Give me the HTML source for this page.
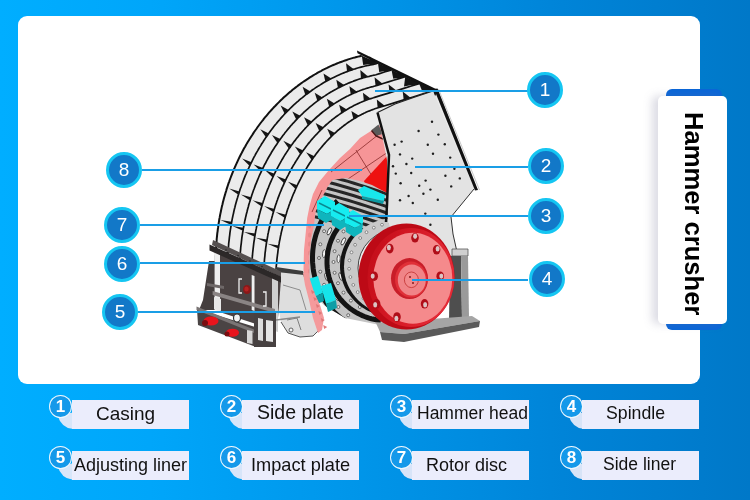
<!DOCTYPE html>
<html><head><meta charset="utf-8">
<style>
*{margin:0;padding:0;box-sizing:border-box}
html,body{width:750px;height:500px;overflow:hidden}
body{position:relative;font-family:"Liberation Sans",sans-serif;background:linear-gradient(90deg,#00aeff 0%,#00a6fa 20%,#0094e8 50%,#0084d8 75%,#0078c8 100%)}
.panel{position:absolute;left:18px;top:16px;width:682px;height:368px;background:#fff;border-radius:9px}
svg.m{position:absolute;left:0;top:0}
.num{will-change:transform;position:absolute;width:36px;height:36px;border-radius:50%;background:#1278c8;border:3px solid #15c6f2;color:#fff;font-size:19px;line-height:30px;text-align:center}
.ln{position:absolute;height:2px;background:#1a9ee6}
.card-strip{position:absolute;left:666px;top:89px;width:56px;height:241px;background:#0a66d8;border-radius:6px}
.card{position:absolute;left:658px;top:96px;width:69px;height:228px;background:#fff;border-radius:5px;box-shadow:-6px 0 8px rgba(120,120,150,.25)}
.vt{will-change:transform;position:absolute;left:681px;top:112px;writing-mode:vertical-rl;font-weight:bold;font-size:25.6px;color:#000;line-height:26px;white-space:nowrap}
.lb{position:absolute;height:29px;background:#ebedfc}
.lc{will-change:transform;position:absolute;width:23px;height:23px;border-radius:50%;background:#1499ea;border:1px solid rgba(255,255,255,.92);color:#fff;font-weight:bold;font-size:17px;line-height:21px;text-align:center}
.lt{position:absolute;color:#111;white-space:nowrap;line-height:1;will-change:transform}
</style></head><body>
<div class="panel"></div>
<svg class="m" width="750" height="500" viewBox="0 0 750 500">
<polygon points="217.5,288.0 217.3,286.0 217.1,284.1 216.9,282.2 216.7,280.2 216.5,278.3 216.4,276.4 216.3,274.4 216.2,272.5 216.1,270.5 216.0,268.6 215.9,266.6 215.9,264.7 215.8,262.7 215.8,260.8 215.8,258.9 215.8,256.5 215.9,254.6 215.9,252.6 216.0,250.7 216.1,248.7 216.2,246.8 216.3,244.8 216.4,242.9 216.6,240.9 216.7,239.0 216.9,237.1 217.1,235.1 217.3,233.2 217.6,231.3 217.8,229.3 218.1,227.4 218.4,225.1 218.7,223.2 219.0,221.3 219.3,219.3 219.7,217.4 220.0,215.5 220.4,213.6 220.8,211.7 221.2,209.8 221.6,207.9 222.0,206.0 222.5,204.2 222.9,202.3 223.4,200.4 223.9,198.5 224.4,196.7 225.1,194.4 225.6,192.6 226.2,190.8 226.7,188.9 227.3,187.1 227.9,185.3 228.5,183.4 229.2,181.6 229.8,179.8 230.5,178.0 231.2,176.2 231.9,174.4 232.6,172.7 233.3,170.9 234.0,169.1 234.8,167.4 235.7,165.3 236.5,163.6 237.3,161.8 238.1,160.1 238.9,158.4 239.7,156.7 240.6,155.0 241.5,153.3 242.3,151.7 243.2,150.0 244.1,148.3 245.1,146.7 246.0,145.1 246.9,143.4 247.9,141.8 248.9,140.2 250.1,138.3 251.1,136.7 252.1,135.2 253.1,133.6 254.1,132.0 255.2,130.5 256.3,129.0 257.3,127.5 258.4,126.0 259.5,124.5 260.6,123.0 261.8,121.5 262.9,120.1 264.0,118.6 265.2,117.2 266.4,115.8 267.8,114.1 269.0,112.7 270.2,111.3 271.4,110.0 272.7,108.6 273.9,107.3 275.2,106.0 276.4,104.7 277.7,103.4 279.0,102.1 280.3,100.8 281.6,99.6 282.9,98.3 284.2,97.1 285.5,95.9 286.9,94.7 288.5,93.3 289.9,92.1 291.3,91.0 292.6,89.8 294.0,88.7 295.4,87.6 296.9,86.5 298.3,85.4 299.7,84.4 301.1,83.3 302.6,82.3 304.0,81.3 305.5,80.3 307.0,79.3 308.5,78.4 309.9,77.4 311.7,76.3 313.2,75.4 314.7,74.5 316.3,73.6 317.8,72.7 319.3,71.9 320.9,71.1 322.4,70.2 324.0,69.4 325.5,68.7 327.1,67.9 328.6,67.1 330.2,66.4 331.8,65.7 333.4,65.0 335.0,64.3 336.9,63.5 338.5,62.9 340.1,62.3 341.7,61.7 343.3,61.1 345.0,60.5 346.6,60.0 348.2,59.4 349.9,58.9 351.5,58.4 353.1,57.9 354.8,57.5 356.5,57.0 358.1,56.6 359.8,56.2 361.8,55.7 436.0,89.0 474.0,189.0 451.0,217.0 453.0,234.0 457.0,252.0 458.0,300.0 300.0,300.0 210.0,290.0" fill="#ebebeb" />
<polyline points="217.5,288.0 217.3,286.0 217.1,284.1 216.9,282.2 216.7,280.2 216.5,278.3 216.4,276.4 216.3,274.4 216.2,272.5 216.1,270.5 216.0,268.6 215.9,266.6 215.9,264.7 215.8,262.7 215.8,260.8 215.8,258.9 215.8,256.5 215.9,254.6 215.9,252.6 216.0,250.7 216.1,248.7 216.2,246.8 216.3,244.8 216.4,242.9 216.6,240.9 216.7,239.0 216.9,237.1 217.1,235.1 217.3,233.2 217.6,231.3 217.8,229.3 218.1,227.4 218.4,225.1 218.7,223.2 219.0,221.3 219.3,219.3 219.7,217.4 220.0,215.5 220.4,213.6 220.8,211.7 221.2,209.8 221.6,207.9 222.0,206.0 222.5,204.2 222.9,202.3 223.4,200.4 223.9,198.5 224.4,196.7 225.1,194.4 225.6,192.6 226.2,190.8 226.7,188.9 227.3,187.1 227.9,185.3 228.5,183.4 229.2,181.6 229.8,179.8 230.5,178.0 231.2,176.2 231.9,174.4 232.6,172.7 233.3,170.9 234.0,169.1 234.8,167.4 235.7,165.3 236.5,163.6 237.3,161.8 238.1,160.1 238.9,158.4 239.7,156.7 240.6,155.0 241.5,153.3 242.3,151.7 243.2,150.0 244.1,148.3 245.1,146.7 246.0,145.1 246.9,143.4 247.9,141.8 248.9,140.2 250.1,138.3 251.1,136.7 252.1,135.2 253.1,133.6 254.1,132.0 255.2,130.5 256.3,129.0 257.3,127.5 258.4,126.0 259.5,124.5 260.6,123.0 261.8,121.5 262.9,120.1 264.0,118.6 265.2,117.2 266.4,115.8 267.8,114.1 269.0,112.7 270.2,111.3 271.4,110.0 272.7,108.6 273.9,107.3 275.2,106.0 276.4,104.7 277.7,103.4 279.0,102.1 280.3,100.8 281.6,99.6 282.9,98.3 284.2,97.1 285.5,95.9 286.9,94.7 288.5,93.3 289.9,92.1 291.3,91.0 292.6,89.8 294.0,88.7 295.4,87.6 296.9,86.5 298.3,85.4 299.7,84.4 301.1,83.3 302.6,82.3 304.0,81.3 305.5,80.3 307.0,79.3 308.5,78.4 309.9,77.4 311.7,76.3 313.2,75.4 314.7,74.5 316.3,73.6 317.8,72.7 319.3,71.9 320.9,71.1 322.4,70.2 324.0,69.4 325.5,68.7 327.1,67.9 328.6,67.1 330.2,66.4 331.8,65.7 333.4,65.0 335.0,64.3 336.9,63.5 338.5,62.9 340.1,62.3 341.7,61.7 343.3,61.1 345.0,60.5 346.6,60.0 348.2,59.4 349.9,58.9 351.5,58.4 353.1,57.9 354.8,57.5 356.5,57.0 358.1,56.6 359.8,56.2 361.8,55.7" fill="none" stroke="#111" stroke-width="2.0" />
<polyline points="228.8,287.7 228.7,285.8 228.5,283.9 228.3,281.6 228.2,279.8 228.1,277.9 228.0,275.6 227.9,273.7 227.9,271.8 227.8,269.5 227.8,267.6 227.8,265.7 227.8,263.5 227.8,261.6 227.8,259.3 227.9,257.4 228.0,255.5 228.1,253.2 228.2,251.3 228.3,249.5 228.4,247.2 228.6,245.3 228.7,243.4 229.0,241.1 229.2,239.3 229.4,237.4 229.7,235.1 229.9,233.2 230.2,231.0 230.5,229.1 230.8,227.3 231.2,225.0 231.5,223.2 231.8,221.3 232.2,219.1 232.6,217.2 233.0,215.4 233.5,213.2 233.9,211.3 234.3,209.5 234.9,207.3 235.3,205.5 235.9,203.3 236.4,201.5 236.9,199.7 237.6,197.6 238.1,195.8 238.7,194.0 239.3,191.9 239.9,190.1 240.5,188.3 241.3,186.2 241.9,184.5 242.7,182.4 243.3,180.7 244.0,178.9 244.8,176.9 245.5,175.2 246.3,173.5 247.1,171.4 247.9,169.7 248.7,168.1 249.6,166.1 250.4,164.4 251.2,162.8 252.2,160.8 253.0,159.2 254.0,157.2 254.9,155.6 255.7,154.0 256.8,152.1 257.7,150.6 258.6,149.0 259.7,147.1 260.7,145.6 261.6,144.0 262.8,142.2 263.7,140.7 264.7,139.2 265.9,137.4 267.0,136.0 268.2,134.2 269.2,132.8 270.3,131.3 271.6,129.6 272.6,128.2 273.7,126.8 275.0,125.1 276.2,123.8 277.3,122.4 278.6,120.8 279.8,119.5 280.9,118.1 282.3,116.6 283.5,115.3 284.9,113.7 286.2,112.5 287.4,111.2 288.8,109.8 290.1,108.5 291.3,107.3 292.8,105.9 294.1,104.7 295.3,103.6 296.9,102.2 298.2,101.1 299.7,99.7 301.0,98.6 302.4,97.6 303.9,96.3 305.3,95.2 306.6,94.2 308.3,93.0 309.6,92.0 311.0,91.0 312.6,89.8 314.0,88.9 315.4,87.9 317.1,86.8 318.5,85.9 320.2,84.9 321.6,84.0 323.1,83.1 324.8,82.1 326.2,81.3 327.7,80.5 329.5,79.6 330.9,78.8 332.4,78.1 334.2,77.2 335.6,76.5 337.1,75.8 338.9,75.0 340.4,74.3 342.2,73.5 343.8,72.9 345.3,72.3 347.1,71.6 348.6,71.0 350.2,70.5 352.0,69.9 353.5,69.3 355.1,68.9 356.9,68.3 358.5,67.8 360.0,67.4 361.9,66.9 363.5,66.5 365.4,66.0 366.9,65.7 368.5,65.3 370.4,64.9 372.0,64.6 373.5,64.3 375.0,64.0 375.6,63.9 376.1,63.7 376.8,63.5 377.4,63.3 378.0,63.1" fill="none" stroke="#111" stroke-width="1.7" />
<polyline points="240.4,288.0 240.2,286.2 240.1,284.3 240.0,282.5 239.9,280.6 239.8,278.4 239.8,276.6 239.7,274.8 239.7,272.9 239.7,270.7 239.7,268.9 239.7,267.0 239.8,265.2 239.8,263.3 239.9,261.1 240.0,259.3 240.0,257.4 240.2,255.6 240.3,253.4 240.4,251.5 240.6,249.7 240.7,247.9 240.9,246.0 241.2,243.8 241.4,242.0 241.6,240.2 241.8,238.4 242.1,236.2 242.4,234.4 242.7,232.5 243.0,230.7 243.3,228.6 243.7,226.8 244.0,225.0 244.4,223.2 244.7,221.4 245.2,219.2 245.6,217.4 246.0,215.7 246.4,213.9 247.0,211.8 247.4,210.0 247.9,208.2 248.4,206.5 248.8,204.7 249.5,202.6 250.0,200.9 250.5,199.2 251.1,197.5 251.7,195.4 252.3,193.7 252.9,192.0 253.5,190.3 254.3,188.3 254.9,186.6 255.5,184.9 256.2,183.3 256.9,181.6 257.7,179.6 258.4,178.0 259.1,176.3 259.8,174.7 260.7,172.8 261.5,171.2 262.2,169.6 263.0,168.0 263.8,166.4 264.7,164.5 265.6,163.0 266.4,161.4 267.2,159.9 268.2,158.0 269.1,156.5 270.0,155.0 270.9,153.5 271.7,152.0 272.8,150.2 273.8,148.8 274.7,147.3 275.6,145.9 276.8,144.2 277.7,142.7 278.7,141.3 279.7,139.9 280.9,138.3 281.9,136.9 282.9,135.5 284.0,134.2 285.0,132.8 286.3,131.3 287.3,129.9 288.4,128.6 289.5,127.4 290.8,125.8 291.9,124.6 293.0,123.3 294.2,122.1 295.3,120.9 296.7,119.4 297.8,118.2 299.0,117.0 300.2,115.9 301.6,114.5 302.8,113.4 304.0,112.2 305.2,111.1 306.6,109.8 307.8,108.8 309.1,107.7 310.3,106.6 311.6,105.6 313.1,104.4 314.3,103.4 315.6,102.4 316.9,101.4 318.4,100.3 319.7,99.3 321.0,98.4 322.4,97.5 323.7,96.6 325.3,95.6 326.6,94.7 327.9,93.9 329.3,93.0 330.9,92.0 332.3,91.3 333.6,90.5 335.0,89.7 336.4,89.0 338.0,88.1 339.4,87.4 340.8,86.7 342.2,86.0 343.9,85.2 345.3,84.6 346.7,83.9 348.1,83.3 349.8,82.6 351.3,82.0 352.7,81.5 354.1,80.9 355.6,80.4 357.3,79.8 358.7,79.3 360.2,78.8 361.6,78.4 363.4,77.8 364.9,77.4 366.3,77.0 367.8,76.6 369.3,76.3 371.0,75.8 372.5,75.5 374.0,75.2 376.0,74.7 379.5,73.6 382.3,72.7 385.2,71.8 388.1,70.9 391.5,69.9" fill="none" stroke="#111" stroke-width="1.7" />
<polyline points="252.0,287.8 251.9,286.0 251.8,284.2 251.7,282.4 251.7,280.7 251.7,278.9 251.6,277.1 251.6,275.3 251.6,273.5 251.7,271.7 251.7,269.9 251.8,268.1 251.8,266.3 251.9,264.5 252.0,262.7 252.1,260.6 252.2,258.8 252.3,257.0 252.5,255.2 252.6,253.5 252.8,251.7 253.0,249.9 253.2,248.1 253.4,246.3 253.6,244.6 253.8,242.8 254.1,241.0 254.4,239.3 254.6,237.5 255.0,235.4 255.3,233.6 255.6,231.9 255.9,230.1 256.3,228.4 256.6,226.7 257.0,224.9 257.3,223.2 257.7,221.5 258.1,219.7 258.6,218.0 259.0,216.3 259.4,214.6 259.9,212.9 260.3,211.2 260.9,209.2 261.4,207.5 261.9,205.8 262.4,204.1 263.0,202.5 263.5,200.8 264.1,199.2 264.6,197.5 265.2,195.9 265.8,194.2 266.4,192.6 267.0,191.0 267.6,189.4 268.3,187.8 269.1,185.8 269.7,184.3 270.4,182.7 271.1,181.1 271.8,179.5 272.5,178.0 273.2,176.4 273.9,174.9 274.7,173.4 275.4,171.8 276.2,170.3 277.0,168.8 277.8,167.3 278.6,165.8 279.4,164.4 280.4,162.6 281.2,161.2 282.0,159.7 282.9,158.3 283.7,156.9 284.6,155.4 285.5,154.0 286.4,152.6 287.3,151.3 288.2,149.9 289.1,148.5 290.1,147.2 291.0,145.8 292.0,144.5 293.1,142.9 294.1,141.6 295.1,140.4 296.1,139.1 297.1,137.8 298.1,136.6 299.1,135.3 300.1,134.1 301.2,132.9 302.2,131.7 303.3,130.5 304.4,129.3 305.4,128.1 306.5,127.0 307.6,125.8 308.9,124.5 310.0,123.4 311.1,122.3 312.3,121.2 313.4,120.1 314.5,119.1 315.7,118.0 316.8,117.0 318.0,116.0 319.2,115.0 320.3,114.0 321.5,113.0 322.7,112.0 323.9,111.1 325.4,110.0 326.6,109.1 327.8,108.2 329.0,107.3 330.2,106.4 331.5,105.5 332.7,104.7 334.0,103.9 335.2,103.1 336.5,102.3 337.8,101.5 339.0,100.7 340.3,100.0 341.6,99.2 342.9,98.5 344.4,97.7 345.7,97.0 347.0,96.3 348.3,95.7 349.7,95.0 351.0,94.4 352.3,93.8 353.6,93.2 354.9,92.6 356.3,92.1 357.6,91.5 359.0,91.0 360.3,90.5 361.7,90.0 363.3,89.4 364.6,89.0 366.0,88.5 367.4,88.1 368.7,87.7 370.1,87.3 371.5,86.9 372.8,86.6 374.2,86.2 377.9,85.1 383.1,83.5 388.4,81.9 393.6,80.3 398.9,78.6 405.2,76.7" fill="none" stroke="#111" stroke-width="1.7" />
<polyline points="263.7,287.9 263.6,286.5 263.6,284.8 263.6,283.0 263.6,281.3 263.6,279.5 263.6,277.8 263.6,276.1 263.7,274.3 263.7,272.6 263.8,270.8 263.8,269.5 263.9,267.7 264.0,266.0 264.1,264.2 264.3,262.5 264.4,260.8 264.5,259.1 264.7,257.3 264.9,255.6 265.0,253.9 265.2,252.1 265.4,250.8 265.6,249.0 265.8,247.3 266.1,245.6 266.3,243.9 266.6,242.2 266.9,240.5 267.2,238.8 267.5,237.1 267.8,235.4 268.0,234.0 268.4,232.4 268.7,230.7 269.1,229.0 269.5,227.3 269.8,225.6 270.2,224.0 270.6,222.3 271.0,220.7 271.5,219.0 271.9,217.4 272.3,216.0 272.7,214.4 273.2,212.8 273.7,211.2 274.2,209.5 274.7,207.9 275.2,206.3 275.7,204.7 276.3,203.1 276.8,201.5 277.4,200.0 277.8,198.7 278.4,197.1 279.0,195.6 279.6,194.0 280.2,192.5 280.9,190.9 281.5,189.4 282.1,187.9 282.8,186.4 283.5,184.8 284.0,183.6 284.7,182.2 285.4,180.7 286.1,179.2 286.8,177.7 287.5,176.3 288.3,174.8 289.0,173.4 289.8,172.0 290.5,170.5 291.3,169.1 291.9,168.0 292.7,166.6 293.5,165.2 294.4,163.9 295.2,162.5 296.0,161.1 296.9,159.8 297.7,158.5 298.6,157.1 299.4,155.8 300.1,154.8 301.0,153.5 301.9,152.2 302.8,151.0 303.7,149.7 304.7,148.5 305.6,147.2 306.5,146.0 307.5,144.8 308.4,143.6 309.4,142.4 310.2,141.5 311.1,140.3 312.1,139.1 313.1,138.0 314.1,136.9 315.1,135.7 316.2,134.6 317.2,133.6 318.2,132.5 319.3,131.4 320.3,130.4 321.1,129.5 322.2,128.5 323.3,127.5 324.3,126.5 325.4,125.5 326.5,124.5 327.6,123.6 328.7,122.6 329.8,121.7 330.9,120.8 331.8,120.0 332.9,119.1 334.1,118.3 335.2,117.4 336.4,116.5 337.5,115.7 338.7,114.9 339.8,114.1 341.0,113.3 342.2,112.5 343.3,111.7 344.3,111.1 345.5,110.4 346.6,109.7 347.8,109.0 349.0,108.3 350.2,107.6 351.5,106.9 352.7,106.3 353.9,105.6 355.1,105.0 356.1,104.5 357.3,103.9 358.5,103.4 359.8,102.8 361.0,102.3 362.3,101.7 363.5,101.2 364.8,100.7 366.0,100.3 367.3,99.8 368.5,99.3 369.5,99.0 370.8,98.6 372.1,98.2 373.4,97.8 374.6,97.4 381.0,95.4 388.6,93.1 396.2,90.7 403.8,88.4 411.4,86.0 419.1,83.6" fill="none" stroke="#111" stroke-width="1.7" />
<polyline points="275.5,287.9 275.5,286.6 275.5,284.9 275.5,283.2 275.6,281.8 275.6,280.1 275.6,278.5 275.7,276.8 275.7,275.4 275.8,273.7 275.9,272.0 276.0,270.7 276.1,269.0 276.2,267.3 276.3,265.7 276.5,264.3 276.6,262.6 276.8,261.0 276.9,259.6 277.1,257.9 277.3,256.3 277.5,254.6 277.7,253.3 277.9,251.6 278.1,249.9 278.3,248.6 278.6,247.0 278.8,245.3 279.1,243.7 279.3,242.4 279.6,240.7 280.0,239.1 280.2,237.8 280.5,236.1 280.9,234.5 281.2,232.9 281.5,231.6 281.9,230.0 282.3,228.4 282.6,227.1 283.0,225.5 283.4,223.9 283.8,222.3 284.1,221.0 284.6,219.4 285.0,217.9 285.4,216.6 285.9,215.0 286.4,213.5 286.8,211.9 287.2,210.7 287.7,209.1 288.3,207.6 288.8,206.1 289.2,204.9 289.8,203.3 290.3,201.8 290.8,200.6 291.4,199.1 291.9,197.7 292.5,196.2 293.0,195.0 293.6,193.5 294.3,192.1 294.8,190.9 295.4,189.5 296.0,188.0 296.7,186.6 297.2,185.5 297.9,184.0 298.6,182.6 299.2,181.5 299.9,180.1 300.6,178.8 301.3,177.4 301.9,176.3 302.6,174.9 303.3,173.6 303.9,172.5 304.7,171.2 305.5,169.9 306.3,168.6 306.9,167.6 307.7,166.3 308.5,165.0 309.1,164.0 309.9,162.7 310.8,161.5 311.6,160.2 312.3,159.3 313.1,158.0 314.0,156.8 314.7,155.9 315.5,154.7 316.4,153.5 317.3,152.4 318.0,151.4 318.9,150.3 319.8,149.2 320.6,148.3 321.5,147.2 322.4,146.1 323.3,145.0 324.1,144.1 325.0,143.1 326.0,142.0 326.9,141.0 327.7,140.2 328.7,139.1 329.7,138.1 330.5,137.3 331.4,136.4 332.4,135.4 333.4,134.4 334.3,133.7 335.3,132.8 336.3,131.9 337.1,131.1 338.1,130.2 339.2,129.4 340.2,128.5 341.1,127.8 342.1,127.0 343.2,126.2 344.0,125.5 345.1,124.7 346.2,123.9 347.2,123.1 348.1,122.5 349.2,121.8 350.3,121.1 351.2,120.5 352.3,119.8 353.4,119.1 354.5,118.4 355.4,117.9 356.5,117.2 357.6,116.6 358.5,116.1 359.6,115.5 360.7,114.9 361.9,114.3 362.8,113.9 363.9,113.3 365.1,112.8 366.0,112.3 367.1,111.8 368.3,111.3 369.5,110.9 370.4,110.5 371.5,110.0 372.7,109.6 373.6,109.3 374.8,108.8 384.9,105.7 395.0,102.6 403.0,100.1 413.1,97.0 423.2,93.9 433.3,90.7" fill="none" stroke="#111" stroke-width="1.7" />
<polygon points="305.4,95.1 310.4,91.4 302.6,86.8" fill="#151515" />
<polygon points="317.4,101.1 322.5,97.4 314.7,92.8" fill="#151515" />
<polygon points="329.3,107.0 334.6,103.5 326.8,98.8" fill="#151515" />
<polygon points="341.3,113.0 346.8,109.6 339.1,104.8" fill="#151515" />
<polygon points="353.4,119.1 359.1,115.8 351.4,110.9" fill="#151515" />
<polygon points="325.4,81.8 331.3,78.6 323.5,73.5" fill="#151515" />
<polygon points="338.0,88.1 344.1,85.1 336.3,79.8" fill="#151515" />
<polygon points="350.8,94.5 357.1,91.7 349.4,86.2" fill="#151515" />
<polygon points="363.9,101.1 370.6,98.6 362.9,92.8" fill="#151515" />
<polygon points="377.7,108.0 384.7,105.8 376.8,99.5" fill="#151515" />
<polygon points="347.1,71.6 353.8,69.2 346.0,63.2" fill="#151515" />
<polygon points="361.0,78.6 368.0,76.6 360.3,70.1" fill="#151515" />
<polygon points="375.6,85.8 382.6,83.7 374.5,77.2" fill="#151515" />
<polygon points="389.5,92.8 396.4,90.6 388.6,84.5" fill="#151515" />
<polygon points="403.7,99.9 410.6,97.7 402.7,91.4" fill="#151515" />
<polygon points="370.1,65.0 377.4,63.3 369.6,56.2" fill="#151515" />
<polygon points="384.4,72.1 391.3,69.9 383.5,63.9" fill="#151515" />
<polygon points="398.0,78.9 405.0,76.7 397.2,70.7" fill="#151515" />
<polygon points="411.9,85.9 418.9,83.7 411.0,77.5" fill="#151515" />
<polygon points="426.1,92.9 433.1,90.8 425.2,84.5" fill="#151515" />
<polygon points="284.8,113.9 288.6,110.0 280.6,105.6" fill="#151515" />
<polygon points="296.4,119.7 300.2,115.8 292.3,111.5" fill="#151515" />
<polygon points="307.9,125.5 311.9,121.6 304.0,117.3" fill="#151515" />
<polygon points="319.4,131.3 323.4,127.3 315.6,123.0" fill="#151515" />
<polygon points="330.8,137.0 334.9,133.1 327.2,128.8" fill="#151515" />
<polygon points="266.0,137.3 268.8,133.4 260.3,129.3" fill="#151515" />
<polygon points="277.5,143.1 280.3,139.1 271.9,135.0" fill="#151515" />
<polygon points="289.0,148.8 291.7,144.9 283.3,140.8" fill="#151515" />
<polygon points="300.4,154.5 303.1,150.5 294.8,146.5" fill="#151515" />
<polygon points="311.7,160.1 314.4,156.2 306.1,152.2" fill="#151515" />
<polygon points="249.7,165.9 251.5,162.2 242.1,158.6" fill="#151515" />
<polygon points="261.2,171.7 263.0,168.0 253.7,164.4" fill="#151515" />
<polygon points="272.7,177.5 274.5,173.8 265.2,170.2" fill="#151515" />
<polygon points="284.2,183.2 285.9,179.5 276.6,176.0" fill="#151515" />
<polygon points="295.6,188.9 297.3,185.2 288.0,181.8" fill="#151515" />
<polygon points="238.4,194.8 239.5,191.4 229.2,188.5" fill="#151515" />
<polygon points="250.1,200.6 251.1,197.2 240.9,194.4" fill="#151515" />
<polygon points="261.7,206.4 262.8,203.1 252.5,200.3" fill="#151515" />
<polygon points="273.4,212.3 274.4,208.9 264.1,206.1" fill="#151515" />
<polygon points="285.0,218.1 286.0,214.7 275.6,212.0" fill="#151515" />
<polygon points="231.2,224.9 231.7,221.8 220.5,220.0" fill="#151515" />
<polygon points="243.0,230.8 243.5,227.8 232.3,225.9" fill="#151515" />
<polygon points="254.8,236.7 255.3,233.6 244.0,231.9" fill="#151515" />
<polygon points="266.5,242.6 267.0,239.6 255.8,237.8" fill="#151515" />
<polygon points="278.3,248.5 278.8,245.4 267.5,243.8" fill="#151515" />
<polygon points="228.0,254.7 228.1,251.9 216.2,251.3" fill="#151515" />
<polygon points="239.9,260.7 240.0,257.8 228.0,257.3" fill="#151515" />
<polygon points="361.8,55.7 378.0,63.1 363.2,64.9" fill="#141414" />
<polygon points="378.0,63.1 391.5,69.9 379.2,72.0" fill="#141414" />
<polygon points="391.5,69.9 405.2,76.7 393.3,78.7" fill="#141414" />
<polygon points="405.2,76.7 419.1,83.6 404.0,86.6" fill="#141414" />
<polygon points="419.1,83.6 433.3,90.7 422.6,92.3" fill="#141414" />
<polygon points="433.3,90.7 437.5,91.5 433.8,98.7" fill="#141414" />
<polygon points="382.0,124.0 374.0,129.0 360.0,138.0 350.0,149.0 340.0,158.0 329.0,170.0 319.0,182.0 313.0,194.0 309.6,206.0 307.2,218.0 306.0,230.0 304.0,250.0 303.5,270.0 305.0,280.0 312.0,282.0 330.0,250.0 350.0,200.0 388.0,192.0 389.0,150.0" fill="#f69597" />
<path d="M331,172 L383,131 M345,181 L388,152 M356,150 L372,176 M322,190 L312,212" fill="none" stroke="#8a2a2a" stroke-width="0.8" />
<ellipse cx="309.5" cy="226.0" rx="1.5" ry="2.5" fill="#e88a8a" />
<ellipse cx="309.5" cy="235.0" rx="1.5" ry="2.5" fill="#e88a8a" />
<ellipse cx="309.5" cy="244.0" rx="1.5" ry="2.5" fill="#e88a8a" />
<ellipse cx="309.5" cy="253.0" rx="1.5" ry="2.5" fill="#e88a8a" />
<ellipse cx="309.5" cy="262.0" rx="1.5" ry="2.5" fill="#e88a8a" />
<ellipse cx="309.5" cy="271.0" rx="1.5" ry="2.5" fill="#e88a8a" />
<ellipse cx="309.5" cy="280.0" rx="1.5" ry="2.5" fill="#e88a8a" />
<ellipse cx="309.5" cy="289.0" rx="1.5" ry="2.5" fill="#e88a8a" />
<ellipse cx="309.5" cy="298.0" rx="1.5" ry="2.5" fill="#e88a8a" />
<ellipse cx="309.5" cy="307.0" rx="1.5" ry="2.5" fill="#e88a8a" />
<polygon points="388.0,155.0 364.0,181.0 368.0,194.0 388.0,196.0" fill="#ee1111" />
<polygon points="371.5,130.0 378.5,124.5 382.5,134.0 376.0,136.0" fill="#5a5a5a" />
<polyline points="371.5,130.5 376.0,136.0 383.0,139.0" fill="none" stroke="#4a1515" stroke-width="1.4" />
<clipPath id="rc"><polygon points="314.0,225.0 315.6,212.0 319.2,201.0 324.0,194.0 327.6,187.0 332.4,180.0 346.0,178.0 360.0,181.0 372.0,185.0 387.0,193.0 388.0,222.0 395.0,235.0 420.0,240.0 440.0,300.0 380.0,325.0 345.0,318.0 325.0,306.0 314.0,295.0 309.5,280.0 309.5,255.0 311.0,240.0"/></clipPath>
<polygon points="314.0,225.0 315.6,212.0 319.2,201.0 324.0,194.0 327.6,187.0 332.4,180.0 346.0,178.0 360.0,181.0 372.0,185.0 387.0,193.0 388.0,222.0 395.0,235.0 420.0,240.0 440.0,300.0 380.0,325.0 345.0,318.0 325.0,306.0 314.0,295.0 309.5,280.0 309.5,255.0 311.0,240.0" fill="#c4c4c4" />
<g clip-path="url(#rc)">
<polyline points="312.0,172.0 318.0,173.4 324.0,174.9 330.0,176.4 336.0,178.0 342.0,179.7 348.0,181.4 354.0,183.2 360.0,185.1 366.0,187.0 372.0,189.0 378.0,191.0 384.0,193.1 390.0,195.3 396.0,197.5" fill="none" stroke="#262626" stroke-width="3.0" />
<polyline points="312.0,178.3 318.0,179.7 324.0,181.2 330.0,182.7 336.0,184.3 342.0,186.0 348.0,187.7 354.0,189.5 360.0,191.4 366.0,193.3 372.0,195.3 378.0,197.3 384.0,199.4 390.0,201.6 396.0,203.8" fill="none" stroke="#262626" stroke-width="3.0" />
<polyline points="312.0,184.6 318.0,186.0 324.0,187.5 330.0,189.0 336.0,190.6 342.0,192.3 348.0,194.0 354.0,195.8 360.0,197.7 366.0,199.6 372.0,201.6 378.0,203.6 384.0,205.7 390.0,207.9 396.0,210.1" fill="none" stroke="#262626" stroke-width="3.0" />
<polyline points="312.0,190.9 318.0,192.3 324.0,193.8 330.0,195.3 336.0,196.9 342.0,198.6 348.0,200.3 354.0,202.1 360.0,204.0 366.0,205.9 372.0,207.9 378.0,209.9 384.0,212.0 390.0,214.2 396.0,216.4" fill="none" stroke="#262626" stroke-width="3.0" />
<polyline points="312.0,197.2 318.0,198.6 324.0,200.1 330.0,201.6 336.0,203.2 342.0,204.9 348.0,206.6 354.0,208.4 360.0,210.3 366.0,212.2 372.0,214.2 378.0,216.2 384.0,218.3 390.0,220.5 396.0,222.7" fill="none" stroke="#262626" stroke-width="3.0" />
<polyline points="312.0,203.5 318.0,204.9 324.0,206.4 330.0,207.9 336.0,209.5 342.0,211.2 348.0,212.9 354.0,214.7 360.0,216.6 366.0,218.5 372.0,220.5 378.0,222.5 384.0,224.6 390.0,226.8 396.0,229.0" fill="none" stroke="#262626" stroke-width="3.0" />
<polyline points="312.0,209.8 318.0,211.2 324.0,212.7 330.0,214.2 336.0,215.8 342.0,217.5 348.0,219.2 354.0,221.0 360.0,222.9 366.0,224.8 372.0,226.8 378.0,228.8 384.0,230.9 390.0,233.1 396.0,235.3" fill="none" stroke="#262626" stroke-width="3.0" />
<polyline points="312.0,216.1 318.0,217.5 324.0,219.0 330.0,220.5 336.0,222.1 342.0,223.8 348.0,225.5 354.0,227.3 360.0,229.2 366.0,231.1 372.0,233.1 378.0,235.1 384.0,237.2 390.0,239.4 396.0,241.6" fill="none" stroke="#262626" stroke-width="3.0" />
<polyline points="371.8,330.2 369.2,329.9 366.6,329.5 364.0,328.9 361.5,328.3 358.9,327.5 356.4,326.6 353.9,325.6 351.5,324.4 349.1,323.2 346.8,321.9 344.5,320.4 342.2,318.9 340.0,317.3 337.9,315.5 335.9,313.7 333.9,311.7 332.0,309.7 330.1,307.6 328.4,305.5 326.7,303.2 325.1,300.9 323.6,298.5 322.1,296.0 320.8,293.4 319.6,290.9 318.4,288.2 317.4,285.5 316.4,282.8 315.6,280.0 314.8,277.2 314.2,274.3 313.6,271.5 313.2,268.6 312.9,265.6 312.6,262.7 312.5,259.8 312.5,256.8 312.6,253.9 312.8,251.0 313.1,248.1 313.5,245.2 314.0,242.3 314.7,239.4 315.4,236.6 316.2,233.8 317.2,231.1 318.2,228.4 319.3,225.7 320.5,223.1 321.8,220.5 323.2,218.1 324.7,215.6 326.3,213.3 328.0,211.0 329.7,208.8 331.6,206.7 333.5,204.7 335.4,202.7 337.5,200.9" fill="none" stroke="#141414" stroke-width="5.0" />
<ellipse cx="348.2" cy="315.2" rx="1.5" ry="1.5" fill="#e6e6e6" stroke="#444" stroke-width="0.7"/>
<ellipse cx="338.4" cy="307.0" rx="1.5" ry="1.5" fill="#e6e6e6" stroke="#444" stroke-width="0.7"/>
<ellipse cx="330.2" cy="296.8" rx="1.5" ry="1.5" fill="#e6e6e6" stroke="#444" stroke-width="0.7"/>
<ellipse cx="324.1" cy="284.8" rx="1.5" ry="1.5" fill="#e6e6e6" stroke="#444" stroke-width="0.7"/>
<ellipse cx="320.3" cy="271.7" rx="1.5" ry="1.5" fill="#e6e6e6" stroke="#444" stroke-width="0.7"/>
<ellipse cx="319.0" cy="258.0" rx="1.5" ry="1.5" fill="#e6e6e6" stroke="#444" stroke-width="0.7"/>
<ellipse cx="320.3" cy="244.3" rx="1.5" ry="1.5" fill="#e6e6e6" stroke="#444" stroke-width="0.7"/>
<ellipse cx="324.1" cy="231.2" rx="1.5" ry="1.5" fill="#e6e6e6" stroke="#444" stroke-width="0.7"/>
<ellipse cx="330.2" cy="219.2" rx="1.5" ry="1.5" fill="#e6e6e6" stroke="#444" stroke-width="0.7"/>
<ellipse cx="338.4" cy="209.0" rx="1.5" ry="1.5" fill="#e6e6e6" stroke="#444" stroke-width="0.7"/>
<ellipse cx="336.5" cy="297.2" rx="1.6" ry="4.0" fill="#f4f4f4" stroke="#333" stroke-width="0.8" transform="rotate(-40 336.5 297.2)"/>
<ellipse cx="326.6" cy="276.9" rx="1.6" ry="4.0" fill="#f4f4f4" stroke="#333" stroke-width="0.8" transform="rotate(-18 326.6 276.9)"/>
<ellipse cx="324.1" cy="253.7" rx="1.6" ry="4.0" fill="#f4f4f4" stroke="#333" stroke-width="0.8" transform="rotate(4 324.1 253.7)"/>
<ellipse cx="329.4" cy="231.3" rx="1.6" ry="4.0" fill="#f4f4f4" stroke="#333" stroke-width="0.8" transform="rotate(26 329.4 231.3)"/>
<polyline points="380.9,320.3 378.5,320.0 376.1,319.7 373.8,319.2 371.4,318.7 369.1,318.1 366.9,317.3 364.6,316.5 362.4,315.6 360.2,314.6 358.1,313.5 356.0,312.4 354.0,311.1 352.0,309.8 350.1,308.4 348.2,306.9 346.4,305.4 344.7,303.7 343.0,302.0 341.4,300.3 339.9,298.5 338.4,296.6 337.0,294.6 335.7,292.6 334.5,290.6 333.4,288.5 332.4,286.4 331.4,284.2 330.6,282.0 329.8,279.7 329.1,277.5 328.5,275.2 328.0,272.9 327.6,270.5 327.3,268.2 327.1,265.8 327.0,263.4 327.0,261.1 327.1,258.7 327.3,256.3 327.6,254.0 327.9,251.6 328.4,249.3 329.0,247.0 329.6,244.7 330.4,242.5 331.2,240.3 332.2,238.1 333.2,235.9 334.3,233.8 335.5,231.8 336.8,229.8 338.1,227.8 339.6,225.9 341.1,224.1 342.6,222.3 344.3,220.6 346.0,219.0 347.8,217.4 349.7,215.9" fill="none" stroke="#141414" stroke-width="5.0" />
<ellipse cx="359.8" cy="307.0" rx="1.5" ry="1.5" fill="#e6e6e6" stroke="#444" stroke-width="0.7"/>
<ellipse cx="350.9" cy="300.6" rx="1.5" ry="1.5" fill="#e6e6e6" stroke="#444" stroke-width="0.7"/>
<ellipse cx="343.5" cy="292.6" rx="1.5" ry="1.5" fill="#e6e6e6" stroke="#444" stroke-width="0.7"/>
<ellipse cx="338.0" cy="283.2" rx="1.5" ry="1.5" fill="#e6e6e6" stroke="#444" stroke-width="0.7"/>
<ellipse cx="334.6" cy="272.8" rx="1.5" ry="1.5" fill="#e6e6e6" stroke="#444" stroke-width="0.7"/>
<ellipse cx="333.5" cy="262.0" rx="1.5" ry="1.5" fill="#e6e6e6" stroke="#444" stroke-width="0.7"/>
<ellipse cx="334.6" cy="251.2" rx="1.5" ry="1.5" fill="#e6e6e6" stroke="#444" stroke-width="0.7"/>
<ellipse cx="338.0" cy="240.8" rx="1.5" ry="1.5" fill="#e6e6e6" stroke="#444" stroke-width="0.7"/>
<ellipse cx="343.5" cy="231.4" rx="1.5" ry="1.5" fill="#e6e6e6" stroke="#444" stroke-width="0.7"/>
<ellipse cx="350.9" cy="223.4" rx="1.5" ry="1.5" fill="#e6e6e6" stroke="#444" stroke-width="0.7"/>
<ellipse cx="349.6" cy="292.2" rx="1.6" ry="4.0" fill="#f4f4f4" stroke="#333" stroke-width="0.8" transform="rotate(-40 349.6 292.2)"/>
<ellipse cx="340.8" cy="276.5" rx="1.6" ry="4.0" fill="#f4f4f4" stroke="#333" stroke-width="0.8" transform="rotate(-18 340.8 276.5)"/>
<ellipse cx="338.6" cy="258.7" rx="1.6" ry="4.0" fill="#f4f4f4" stroke="#333" stroke-width="0.8" transform="rotate(4 338.6 258.7)"/>
<ellipse cx="343.3" cy="241.4" rx="1.6" ry="4.0" fill="#f4f4f4" stroke="#333" stroke-width="0.8" transform="rotate(26 343.3 241.4)"/>
<polyline points="389.1,314.3 387.0,314.1 385.0,313.8 382.9,313.4 380.9,313.0 378.9,312.5 377.0,311.9 375.0,311.2 373.1,310.5 371.2,309.6 369.4,308.7 367.6,307.8 365.8,306.7 364.1,305.6 362.4,304.5 360.8,303.2 359.3,302.0 357.8,300.6 356.3,299.2 354.9,297.7 353.6,296.2 352.4,294.7 351.2,293.1 350.1,291.4 349.0,289.7 348.0,288.0 347.1,286.2 346.3,284.4 345.6,282.6 344.9,280.7 344.3,278.8 343.8,276.9 343.4,275.0 343.0,273.1 342.8,271.1 342.6,269.2 342.5,267.2 342.5,265.2 342.6,263.3 342.7,261.3 343.0,259.3 343.3,257.4 343.7,255.5 344.2,253.6 344.8,251.7 345.4,249.8 346.2,248.0 347.0,246.2 347.8,244.4 348.8,242.7 349.8,240.9 350.9,239.3 352.1,237.7 353.3,236.1 354.7,234.6 356.0,233.1 357.5,231.7 359.0,230.3 360.5,229.0 362.1,227.8" fill="none" stroke="#141414" stroke-width="5.0" />
</g>
<ellipse cx="394.5" cy="266.5" rx="50.5" ry="48.5" fill="#c9c9c9" />
<ellipse cx="386.6" cy="309.3" rx="1.4" ry="1.4" fill="#f2f2f2" stroke="#555" stroke-width="0.6"/>
<ellipse cx="378.2" cy="307.1" rx="1.4" ry="1.4" fill="#f2f2f2" stroke="#555" stroke-width="0.6"/>
<ellipse cx="370.4" cy="303.4" rx="1.4" ry="1.4" fill="#f2f2f2" stroke="#555" stroke-width="0.6"/>
<ellipse cx="363.5" cy="298.3" rx="1.4" ry="1.4" fill="#f2f2f2" stroke="#555" stroke-width="0.6"/>
<ellipse cx="357.7" cy="292.1" rx="1.4" ry="1.4" fill="#f2f2f2" stroke="#555" stroke-width="0.6"/>
<ellipse cx="353.3" cy="284.9" rx="1.4" ry="1.4" fill="#f2f2f2" stroke="#555" stroke-width="0.6"/>
<ellipse cx="350.4" cy="277.0" rx="1.4" ry="1.4" fill="#f2f2f2" stroke="#555" stroke-width="0.6"/>
<ellipse cx="349.1" cy="268.8" rx="1.4" ry="1.4" fill="#f2f2f2" stroke="#555" stroke-width="0.6"/>
<ellipse cx="349.4" cy="260.4" rx="1.4" ry="1.4" fill="#f2f2f2" stroke="#555" stroke-width="0.6"/>
<ellipse cx="351.5" cy="252.3" rx="1.4" ry="1.4" fill="#f2f2f2" stroke="#555" stroke-width="0.6"/>
<ellipse cx="355.1" cy="244.8" rx="1.4" ry="1.4" fill="#f2f2f2" stroke="#555" stroke-width="0.6"/>
<ellipse cx="360.2" cy="238.0" rx="1.4" ry="1.4" fill="#f2f2f2" stroke="#555" stroke-width="0.6"/>
<ellipse cx="366.5" cy="232.2" rx="1.4" ry="1.4" fill="#f2f2f2" stroke="#555" stroke-width="0.6"/>
<ellipse cx="373.8" cy="227.7" rx="1.4" ry="1.4" fill="#f2f2f2" stroke="#555" stroke-width="0.6"/>
<ellipse cx="382.0" cy="224.7" rx="1.4" ry="1.4" fill="#f2f2f2" stroke="#555" stroke-width="0.6"/>
<ellipse cx="390.5" cy="223.2" rx="1.4" ry="1.4" fill="#f2f2f2" stroke="#555" stroke-width="0.6"/>
<ellipse cx="398.0" cy="268.0" rx="40.0" ry="39.0" fill="#ececec" stroke="#333" stroke-width="0.9"/>
<ellipse cx="392.0" cy="257.0" rx="1.8" ry="1.8" fill="#222" />
<polygon points="317.0,201.0 325.0,196.0 335.0,202.0 335.0,209.0 327.0,214.0 317.0,209.0" fill="#16ecf0" />
<polygon points="317.0,209.0 327.0,214.0 335.0,209.0 334.0,218.0 326.0,223.0 318.0,218.0" fill="#0fb5bd" />
<polyline points="319.0,203.0 333.0,210.0" fill="none" stroke="#0a8a92" stroke-width="1.5" />
<polygon points="331.0,208.0 339.0,203.0 349.0,209.0 349.0,216.0 341.0,221.0 331.0,216.0" fill="#16ecf0" />
<polygon points="331.0,216.0 341.0,221.0 349.0,216.0 348.0,225.0 340.0,230.0 332.0,225.0" fill="#0fb5bd" />
<polyline points="333.0,210.0 347.0,217.0" fill="none" stroke="#0a8a92" stroke-width="1.5" />
<polygon points="345.0,215.0 353.0,210.0 363.0,216.0 363.0,223.0 355.0,228.0 345.0,223.0" fill="#16ecf0" />
<polygon points="345.0,223.0 355.0,228.0 363.0,223.0 362.0,232.0 354.0,237.0 346.0,232.0" fill="#0fb5bd" />
<polyline points="347.0,217.0 361.0,224.0" fill="none" stroke="#0a8a92" stroke-width="1.5" />
<polygon points="358.0,190.0 364.0,186.0 385.0,195.0 384.0,201.0 362.0,196.0" fill="#18e6ec" />
<polygon points="362.0,196.0 384.0,201.0 383.0,204.0 362.0,199.0" fill="#0d9aa2" />
<polygon points="308.0,279.0 318.0,276.0 323.0,293.0 313.0,297.0" fill="#16e4ea" />
<polygon points="313.0,297.0 323.0,293.0 324.0,301.0 315.0,305.0" fill="#0d9ea6" />
<polygon points="321.0,286.0 331.0,283.0 336.0,300.0 326.0,304.0" fill="#16e4ea" />
<polygon points="326.0,304.0 336.0,300.0 337.0,308.0 328.0,312.0" fill="#0d9ea6" />
<polygon points="377.5,112.5 395.0,104.0 415.0,97.0 433.0,91.0 474.0,189.0 451.0,217.0 453.0,234.0 457.0,252.0 458.0,300.0 420.0,300.0 388.0,222.0 387.0,160.0" fill="#e3e3e3" />
<polyline points="377.5,112.5 389.0,155.0 387.0,205.0 386.0,222.0" fill="none" stroke="#111" stroke-width="2.5" />
<polyline points="377.5,112.5 395.0,104.0 415.0,97.0 433.0,91.0" fill="none" stroke="#222" stroke-width="1.2" />
<polygon points="434.0,89.0 437.5,88.5 478.0,190.0 475.0,190.5" fill="#111" />
<polyline points="438.5,89.0 479.5,190.0" fill="none" stroke="#bbb" stroke-width="0.8" />
<polyline points="474.0,189.0 451.0,217.0 453.0,234.0 457.0,252.0" fill="none" stroke="#333" stroke-width="1" />
<ellipse cx="432.0" cy="121.8" rx="1.2" ry="1.2" fill="#1e1e1e" />
<ellipse cx="418.6" cy="131.0" rx="1.2" ry="1.2" fill="#1e1e1e" />
<ellipse cx="438.4" cy="134.6" rx="1.2" ry="1.2" fill="#1e1e1e" />
<ellipse cx="401.6" cy="141.6" rx="1.2" ry="1.2" fill="#1e1e1e" />
<ellipse cx="444.8" cy="144.2" rx="1.2" ry="1.2" fill="#1e1e1e" />
<ellipse cx="394.6" cy="144.8" rx="1.2" ry="1.2" fill="#1e1e1e" />
<ellipse cx="427.8" cy="144.8" rx="1.2" ry="1.2" fill="#1e1e1e" />
<ellipse cx="433.0" cy="153.8" rx="1.2" ry="1.2" fill="#1e1e1e" />
<ellipse cx="400.0" cy="154.4" rx="1.2" ry="1.2" fill="#1e1e1e" />
<ellipse cx="412.2" cy="158.6" rx="1.2" ry="1.2" fill="#1e1e1e" />
<ellipse cx="450.2" cy="157.6" rx="1.2" ry="1.2" fill="#1e1e1e" />
<ellipse cx="406.4" cy="164.0" rx="1.2" ry="1.2" fill="#1e1e1e" />
<ellipse cx="393.0" cy="166.2" rx="1.2" ry="1.2" fill="#1e1e1e" />
<ellipse cx="454.4" cy="168.8" rx="1.2" ry="1.2" fill="#1e1e1e" />
<ellipse cx="411.2" cy="173.0" rx="1.2" ry="1.2" fill="#1e1e1e" />
<ellipse cx="395.8" cy="173.6" rx="1.2" ry="1.2" fill="#1e1e1e" />
<ellipse cx="445.4" cy="175.8" rx="1.2" ry="1.2" fill="#1e1e1e" />
<ellipse cx="425.6" cy="180.6" rx="1.2" ry="1.2" fill="#1e1e1e" />
<ellipse cx="459.8" cy="178.4" rx="1.2" ry="1.2" fill="#1e1e1e" />
<ellipse cx="419.2" cy="185.8" rx="1.2" ry="1.2" fill="#1e1e1e" />
<ellipse cx="400.6" cy="183.2" rx="1.2" ry="1.2" fill="#1e1e1e" />
<ellipse cx="430.4" cy="189.6" rx="1.2" ry="1.2" fill="#1e1e1e" />
<ellipse cx="451.2" cy="186.4" rx="1.2" ry="1.2" fill="#1e1e1e" />
<ellipse cx="423.4" cy="193.8" rx="1.2" ry="1.2" fill="#1e1e1e" />
<ellipse cx="408.6" cy="196.0" rx="1.2" ry="1.2" fill="#1e1e1e" />
<ellipse cx="400.0" cy="200.2" rx="1.2" ry="1.2" fill="#1e1e1e" />
<ellipse cx="437.8" cy="199.8" rx="1.2" ry="1.2" fill="#1e1e1e" />
<ellipse cx="412.8" cy="203.0" rx="1.2" ry="1.2" fill="#1e1e1e" />
<ellipse cx="425.3" cy="213.6" rx="1.2" ry="1.2" fill="#1e1e1e" />
<ellipse cx="430.4" cy="224.8" rx="1.2" ry="1.2" fill="#1e1e1e" />
<polygon points="357.0,50.4 439.0,90.6 438.0,93.7 357.5,53.2" fill="#111" />
<polygon points="452.0,249.0 468.0,249.0 468.0,256.0 452.0,256.0" fill="#d0d0d0" stroke="#555" stroke-width="0.8"/>
<polygon points="450.0,256.0 461.0,256.0 462.0,320.0 449.0,322.0" fill="#4e4e4e" />
<polygon points="461.0,256.0 468.0,256.0 469.0,318.0 462.0,320.0" fill="#9a9a9a" />
<polygon points="376.0,323.0 472.0,316.0 480.0,321.0 404.0,334.0 380.0,332.0" fill="#a5a5a5" />
<polygon points="380.0,332.0 404.0,334.0 480.0,321.0 479.0,327.0 404.0,342.0 382.0,340.0" fill="#5a5a5a" />
<defs><linearGradient id="lipg" x1="0" y1="0" x2="1" y2="0.3"><stop offset="0" stop-color="#c00c18"/><stop offset="0.35" stop-color="#cf1420"/><stop offset="1" stop-color="#e42a36"/></linearGradient></defs>
<ellipse cx="406.5" cy="276.5" rx="48.0" ry="53.0" fill="#bd0a16" />
<ellipse cx="411.0" cy="277.5" rx="43.5" ry="49.5" fill="url(#lipg)" />
<ellipse cx="412.8" cy="278.3" rx="39.5" ry="45.5" fill="#f58a8c" />
<ellipse cx="415.0" cy="237.8" rx="3.8" ry="4.8" fill="#b00d18" />
<ellipse cx="415.1" cy="236.3" rx="2.0" ry="2.7" fill="#dcc4c4" />
<ellipse cx="436.6" cy="249.8" rx="3.8" ry="4.8" fill="#b00d18" />
<ellipse cx="437.6" cy="248.8" rx="2.0" ry="2.7" fill="#dcc4c4" />
<ellipse cx="440.2" cy="276.2" rx="3.8" ry="4.8" fill="#b00d18" />
<ellipse cx="441.3" cy="276.1" rx="2.0" ry="2.7" fill="#dcc4c4" />
<ellipse cx="424.6" cy="303.8" rx="3.8" ry="4.8" fill="#b00d18" />
<ellipse cx="425.1" cy="304.7" rx="2.0" ry="2.7" fill="#dcc4c4" />
<ellipse cx="397.0" cy="317.0" rx="3.8" ry="4.8" fill="#b00d18" />
<ellipse cx="396.4" cy="318.4" rx="2.0" ry="2.7" fill="#dcc4c4" />
<ellipse cx="376.6" cy="303.8" rx="3.8" ry="4.8" fill="#b00d18" />
<ellipse cx="375.2" cy="304.7" rx="2.0" ry="2.7" fill="#dcc4c4" />
<ellipse cx="374.2" cy="276.2" rx="3.8" ry="4.8" fill="#b00d18" />
<ellipse cx="372.7" cy="276.1" rx="2.0" ry="2.7" fill="#dcc4c4" />
<ellipse cx="389.8" cy="248.6" rx="3.8" ry="4.8" fill="#b00d18" />
<ellipse cx="388.9" cy="247.5" rx="2.0" ry="2.7" fill="#dcc4c4" />
<ellipse cx="409.5" cy="278.6" rx="18.5" ry="20.5" fill="#c81d28" />
<ellipse cx="411.0" cy="279.6" rx="16.0" ry="18.0" fill="#e03038" />
<ellipse cx="411.8" cy="280.0" rx="14.0" ry="15.6" fill="#f08487" />
<ellipse cx="411.4" cy="279.8" rx="7.0" ry="7.8" fill="#f28a8c" stroke="#c03030" stroke-width="0.8"/>
<ellipse cx="410.0" cy="277.0" rx="0.9" ry="0.9" fill="#7a1010" />
<ellipse cx="413.0" cy="283.0" rx="0.9" ry="0.9" fill="#7a1010" />
<polygon points="276.0,269.0 303.0,273.0 309.0,290.0 321.0,328.0 313.0,336.0 300.0,337.0 288.0,333.0 281.0,322.0 277.0,300.0" fill="#dedede" />
<polyline points="276.0,269.0 303.0,273.0 309.0,290.0 321.0,328.0 313.0,336.0 300.0,337.0 288.0,333.0 281.0,322.0" fill="none" stroke="#444" stroke-width="0.9" />
<polygon points="276.0,267.0 303.0,271.0 304.0,275.0 277.0,272.0" fill="#3c3c3c" />
<polyline points="283.0,285.0 300.0,290.0 306.0,310.0" fill="none" stroke="#777" stroke-width="0.8" />
<polyline points="287.0,320.0 297.0,318.0 301.0,330.0" fill="none" stroke="#666" stroke-width="0.8" />
<ellipse cx="291.0" cy="330.0" rx="2.0" ry="2.0" fill="#f5f5f5" stroke="#444" stroke-width="0.8"/>
<polygon points="303.0,273.0 308.0,273.0 314.0,292.0 320.0,305.0 324.0,318.0 322.0,330.0 318.0,333.0 313.0,318.0 309.0,300.0 305.0,285.0" fill="#f49a9c" />
<polygon points="311.0,290.0 315.0,292.0 312.0,294.0" fill="#e07878" />
<polygon points="313.4,297.0 317.4,299.0 314.4,301.0" fill="#e07878" />
<polygon points="315.9,304.0 319.9,306.0 316.9,308.0" fill="#e07878" />
<polygon points="318.4,311.0 322.4,313.0 319.4,315.0" fill="#e07878" />
<polygon points="320.8,318.0 324.8,320.0 321.8,322.0" fill="#e07878" />
<polygon points="323.2,325.0 327.2,327.0 324.2,329.0" fill="#e07878" />
<polygon points="219.5,253.0 281.0,279.5 277.0,331.0 219.5,312.0" fill="#4a4242" />
<polygon points="214.6,251.0 220.0,253.0 220.0,312.0 214.6,310.0" fill="#efefef" />
<polygon points="209.0,261.0 214.6,261.0 214.6,310.0 199.0,310.0 203.0,300.0" fill="#453f3f" />
<polygon points="207.0,283.0 224.0,286.0 224.0,289.0 207.0,286.0" fill="#6e6868" />
<polygon points="251.7,275.0 254.5,276.0 254.5,311.0 251.7,310.0" fill="#f0f0f0" />
<polygon points="272.0,274.0 278.0,276.0 278.0,332.0 272.0,330.0" fill="#cfcfcf" />
<polygon points="213.0,240.0 281.0,271.5 281.0,277.0 212.0,245.0" fill="#555050" />
<polygon points="209.5,244.5 281.0,276.5 281.0,282.5 209.5,250.5" fill="#2c2828" />
<ellipse cx="226.0" cy="250.0" rx="0.9" ry="0.7" fill="#2a2a2a" />
<ellipse cx="238.0" cy="255.5" rx="0.9" ry="0.7" fill="#2a2a2a" />
<ellipse cx="250.0" cy="261.0" rx="0.9" ry="0.7" fill="#2a2a2a" />
<ellipse cx="262.0" cy="266.5" rx="0.9" ry="0.7" fill="#2a2a2a" />
<polygon points="212.6,291.0 275.0,309.0 275.0,313.0 212.6,295.0" fill="#8a8484" />
<polygon points="197.0,309.0 275.0,333.0 275.0,347.0 256.0,347.0 198.0,325.0" fill="#4a4444" />
<polygon points="196.5,306.6 254.0,329.5 254.0,333.0 196.5,310.0" fill="#7a7575" />
<polygon points="254.0,311.0 276.0,313.0 276.0,347.0 254.0,347.0" fill="#474141" />
<polygon points="258.0,318.0 263.0,319.0 263.0,341.0 258.0,340.0" fill="#dcdcdc" />
<polygon points="266.0,320.0 273.0,321.0 273.0,342.0 266.0,341.0" fill="#e6e6e6" />
<polygon points="247.0,330.0 252.5,331.0 252.5,344.0 247.0,343.0" fill="#d8d8d8" />
<polygon points="214.0,297.0 221.0,299.0 221.0,311.0 214.0,309.0" fill="#e8e8e8" />
<polyline points="242.0,279.0 239.0,279.0 239.0,293.0 242.0,293.0" fill="none" stroke="#eee" stroke-width="1.3" />
<polyline points="263.0,292.0 266.0,292.0 266.0,306.0 263.0,306.0" fill="none" stroke="#eee" stroke-width="1.3" />
<ellipse cx="247.0" cy="289.5" rx="4.0" ry="4.5" fill="#8a1818" />
<ellipse cx="246.5" cy="289.0" rx="2.2" ry="2.5" fill="#b52222" />
<ellipse cx="237.0" cy="318.0" rx="3.5" ry="4.0" fill="#f0f0f0" stroke="#333" stroke-width="1.2"/>
<ellipse cx="211.0" cy="321.0" rx="7.5" ry="4.5" fill="#e8141c" />
<ellipse cx="205.0" cy="323.0" rx="3.0" ry="3.0" fill="#7a0d10" />
<ellipse cx="232.5" cy="332.7" rx="6.5" ry="4.0" fill="#e8141c" />
<ellipse cx="227.0" cy="334.0" rx="2.5" ry="2.5" fill="#7a0d10" />
<polyline points="276.0,320.0 300.0,317.0" fill="none" stroke="#888" stroke-width="1.5" />
</svg>

<!-- leader lines -->
<div class="ln" style="left:142px;top:169px;width:220px"></div>
<div class="ln" style="left:140px;top:224px;width:184px"></div>
<div class="ln" style="left:140px;top:262px;width:165px"></div>
<div class="ln" style="left:138px;top:310.5px;width:177px"></div>
<div class="ln" style="left:375px;top:90px;width:153px"></div>
<div class="ln" style="left:415px;top:166px;width:113px"></div>
<div class="ln" style="left:349px;top:215px;width:179px"></div>
<div class="ln" style="left:412px;top:279px;width:116px"></div>

<div class="num" style="left:106px;top:152px">8</div>
<div class="num" style="left:104px;top:207px">7</div>
<div class="num" style="left:104px;top:246px">6</div>
<div class="num" style="left:102px;top:294px">5</div>
<div class="num" style="left:527px;top:72px">1</div>
<div class="num" style="left:528px;top:148px">2</div>
<div class="num" style="left:528px;top:198px">3</div>
<div class="num" style="left:529px;top:261px">4</div>

<div class="card-strip"></div>
<div class="card"></div>
<div class="vt">Hammer crusher</div>

<!-- bottom labels -->
<svg style="position:absolute;left:0;top:0" width="750" height="500"><path d="M57.3,414.7 Q61.3,427.7 72.0,428.7 L72.0,412.7 Z" fill="#e4e9f9" opacity="0.95"/><path d="M228.0,414.7 Q232.0,427.7 242.7,428.7 L242.7,412.7 Z" fill="#e4e9f9" opacity="0.95"/><path d="M398.3,414.7 Q402.3,427.7 413.0,428.7 L413.0,412.7 Z" fill="#e4e9f9" opacity="0.95"/><path d="M568.3,414.7 Q572.3,427.7 583.0,428.7 L583.0,412.7 Z" fill="#e4e9f9" opacity="0.95"/><path d="M57.3,465.6 Q61.3,478.6 72.0,479.6 L72.0,463.6 Z" fill="#e4e9f9" opacity="0.95"/><path d="M228.0,465.6 Q232.0,478.6 242.7,479.6 L242.7,463.6 Z" fill="#e4e9f9" opacity="0.95"/><path d="M398.3,465.6 Q402.3,478.6 413.0,479.6 L413.0,463.6 Z" fill="#e4e9f9" opacity="0.95"/><path d="M568.3,465.6 Q572.3,478.6 583.0,479.6 L583.0,463.6 Z" fill="#e4e9f9" opacity="0.95"/></svg>

<div class="lb" style="left:72px;top:400px;width:117px"></div>
<div class="lb" style="left:242px;top:400px;width:117px"></div>
<div class="lb" style="left:412px;top:400px;width:117px"></div>
<div class="lb" style="left:582px;top:400px;width:117px"></div>
<div class="lb" style="left:72px;top:451px;width:117px"></div>
<div class="lb" style="left:242px;top:451px;width:117px"></div>
<div class="lb" style="left:412px;top:451px;width:117px"></div>
<div class="lb" style="left:582px;top:451px;width:117px"></div>



<div class="lt" style="left:95.7px;top:403.92px;font-size:19.0px">Casing</div>
<div class="lt" style="left:256.8px;top:403.49px;font-size:19.5px">Side plate</div>
<div class="lt" style="left:417.2px;top:404.93px;font-size:17.5px">Hammer head</div>
<div class="lt" style="left:605.7px;top:405.02px;font-size:17.7px">Spindle</div>
<div class="lt" style="left:74.4px;top:455.76px;font-size:18.0px">Adjusting liner</div>
<div class="lt" style="left:251.4px;top:455.59px;font-size:18.2px">Impact plate</div>
<div class="lt" style="left:426.1px;top:455.76px;font-size:18.0px">Rotor disc</div>
<div class="lt" style="left:602.9px;top:456.19px;font-size:17.5px">Side liner</div>
<div class="lc" style="left:48.8px;top:394.7px">1</div>
<div class="lc" style="left:219.5px;top:394.7px">2</div>
<div class="lc" style="left:389.8px;top:394.7px">3</div>
<div class="lc" style="left:559.8px;top:394.7px">4</div>
<div class="lc" style="left:48.8px;top:445.7px">5</div>
<div class="lc" style="left:219.5px;top:445.7px">6</div>
<div class="lc" style="left:389.8px;top:445.7px">7</div>
<div class="lc" style="left:559.8px;top:445.7px">8</div>
</body></html>
